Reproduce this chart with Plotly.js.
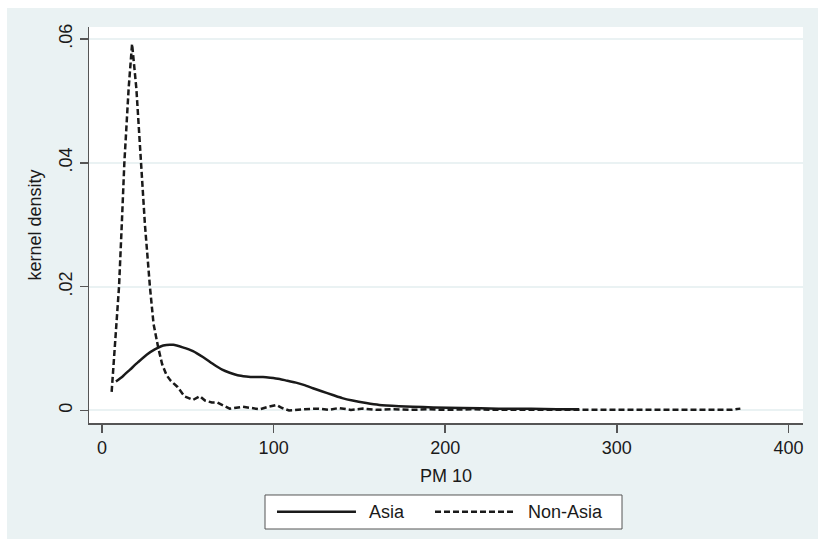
<!DOCTYPE html>
<html>
<head>
<meta charset="utf-8">
<script src="https://cdn.plot.ly/plotly-3.0.1.min.js"></script>
<style>
html,body{margin:0;padding:0;background:#ffffff;width:818px;height:539px;overflow:hidden;}
#chart{position:absolute;left:7px;top:8px;width:811px;height:531px;}
</style>
</head>
<body>
<div id="chart"></div>
<script>
// Asia (solid)
const asiaX = [8.1,12,16.3,21,26,31,35.7,41.5,47,53,59,64.7,70,74.4,79,84,89,93.8,98,103.5,108,113,118,122.9,128,134.5,140,146,154,161.6,173,181,193,210,231,250,265,278];
const asiaY = [0.0047,0.0055,0.0066,0.0078,0.0090,0.0099,0.0105,0.0106,0.0102,0.0096,0.0086,0.0075,0.0066,0.0061,0.0057,0.0055,0.0054,0.0054,0.0053,0.0051,0.0048,0.0045,0.0041,0.0036,0.0031,0.0025,0.0020,0.0016,0.0012,0.0009,0.0007,0.0006,0.0005,0.0004,0.0003,0.0003,0.0002,0.0002];
// Non-Asia (dashed)
const nonAsiaX = [5.6,7.5,9.9,11.5,13,15.5,17.5,20,22.5,25,27.9,30,32.7,35,37.6,40,44,48,53,57,60,64,67,71,74.4,82,87,92,97,101.6,105,109,118,125.8,132,138,145,152,160,170,180,190,200,215,230,250,270,300,330,360,367,372];
const nonAsiaY = [0.0030,0.0110,0.0200,0.0300,0.0400,0.0520,0.0592,0.0520,0.0400,0.0300,0.0200,0.0140,0.0102,0.0075,0.0057,0.0048,0.0038,0.0023,0.0017,0.0023,0.0016,0.0013,0.0013,0.0007,0.0003,0.0006,0.0004,0.0002,0.0006,0.0009,0.0004,0.0000,0.0002,0.0003,0.0001,0.0004,0.0001,0.0003,0.0001,0.0002,0.0001,0.0002,0.0001,0.0002,0.0001,0.0001,0.0001,0.00005,0.00005,0.00005,0.0001,0.0003];
const seriesNames = ["Asia","Non-Asia"];
const xTicks = [0,100,200,300,400];
const yTicks = [0,0.02,0.04,0.06];
const yTickText = ["0",".02",".04",".06"];

const font = {family:"Liberation Sans, Arial, sans-serif", size:18, color:"#1a1a1a"};
const lineColor = "#1a1a1a";
const dashPattern = "6px,3px";

const traces = [
  {x:asiaX, y:asiaY, type:"scatter", mode:"lines", name:seriesNames[0], line:{color:lineColor, width:2.5, shape:"spline", smoothing:0.6}, showlegend:false},
  {x:nonAsiaX, y:nonAsiaY, type:"scatter", mode:"lines", name:seriesNames[1], line:{color:lineColor, width:2.5, dash:dashPattern}, showlegend:false}
];

// legend geometry (paper coordinates)
const lgY = -0.224;
const layout = {
  width:811, height:531,
  margin:{l:82, r:15, t:19, b:116},
  paper_bgcolor:"#EAF2F3",
  plot_bgcolor:"#ffffff",
  font:font,
  showlegend:false,
  xaxis:{
    range:[-7.6,408.5], tickvals:xTicks, ticktext:xTicks.map(String),
    showgrid:false, zeroline:false,
    showline:true, linecolor:"#555555", linewidth:1.5,
    ticks:"outside", ticklen:8, tickwidth:1.5, tickcolor:"#555555",
    tickfont:font,
    title:{text:"PM 10", font:font, standoff:12}
  },
  yaxis:{
    range:[-0.00202,0.06193], tickvals:yTicks, ticktext:yTickText,
    tickangle:-90,
    showgrid:true, gridcolor:"#EAF2F3", gridwidth:2, zeroline:false,
    showline:true, linecolor:"#555555", linewidth:1.5,
    ticks:"outside", ticklen:8, tickwidth:1.5, tickcolor:"#555555",
    tickfont:font,
    title:{text:"kernel density", font:font, standoff:10}
  },
  shapes:[
    {type:"rect", xref:"paper", yref:"paper", x0:0.2465, x1:0.7465, y0:-0.2677, y1:-0.1818, line:{color:"#555555", width:1}, fillcolor:"#ffffff", layer:"above"},
    {type:"line", xref:"paper", yref:"paper", x0:0.2633, x1:0.3739, y0:lgY, y1:lgY, line:{color:lineColor, width:2.5}},
    {type:"line", xref:"paper", yref:"paper", x0:0.4846, x1:0.5966, y0:lgY, y1:lgY, line:{color:lineColor, width:2.5, dash:dashPattern}}
  ],
  annotations:[
    {xref:"paper", yref:"paper", x:0.3894, y:lgY, xanchor:"left", yanchor:"middle", text:seriesNames[0], showarrow:false, font:font},
    {xref:"paper", yref:"paper", x:0.6120, y:lgY, xanchor:"left", yanchor:"middle", text:seriesNames[1], showarrow:false, font:font}
  ]
};

Plotly.newPlot("chart", traces, layout, {displayModeBar:false, staticPlot:true});
</script>
</body>
</html>
